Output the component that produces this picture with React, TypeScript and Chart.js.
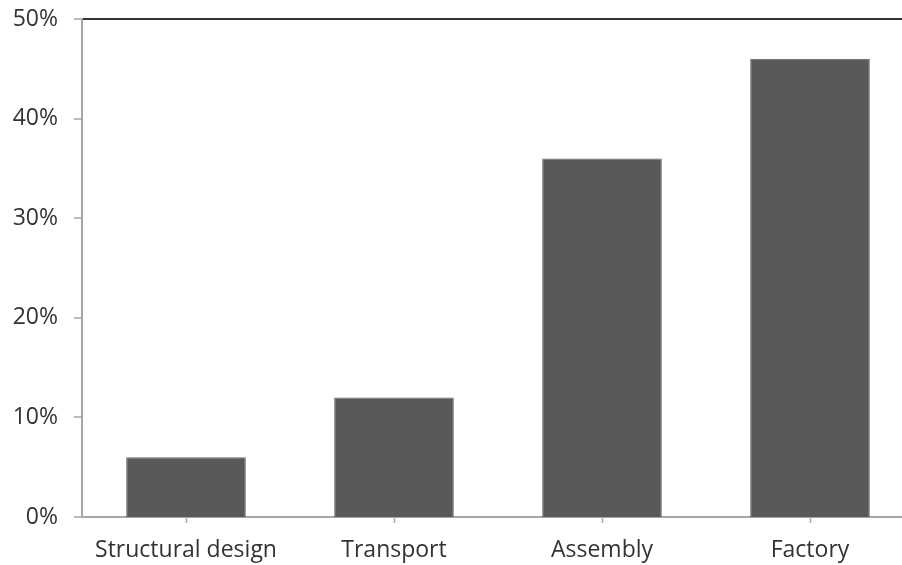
import React, { useEffect, useRef } from "react";
import { Chart, registerables } from "chart.js";

Chart.register(...registerables);

const categories = ["Structural design", "Transport", "Assembly", "Factory"];
const shares = [6, 12, 36, 46];
const yTicks = [0, 10, 20, 30, 40, 50];

const FONT = "'Open Sans', 'Noto Sans', sans-serif";
const TEXT = "#333333";
const AXIS = "#a6a6a6";

export default function App() {
  const ref = useRef<HTMLCanvasElement | null>(null);

  useEffect(() => {
    if (!ref.current) return;
    const chart = new Chart(ref.current, {
      type: "bar",
      data: {
        labels: categories,
        datasets: [
          {
            data: shares,
            backgroundColor: "#595959",
            borderColor: "#666666",
            borderWidth: 1,
            categoryPercentage: 1,
            barPercentage: 0.575,
          },
        ],
      },
      options: {
        responsive: false,
        animation: false,
        layout: { padding: { top: 19, right: 16, left: 0, bottom: 0 } },
        plugins: { legend: { display: false }, tooltip: { enabled: false } },
        scales: {
          x: {
            offset: true,
            grid: {
              offset: false,
              drawOnChartArea: false,
              tickLength: 6,
              tickColor: AXIS,
              tickWidth: 1.5,
            },
            border: { color: AXIS, width: 2 },
            ticks: {
              color: TEXT,
              font: { family: FONT, size: 23 },
              padding: 14,
              maxRotation: 0,
            },
            afterFit: (s: any) => {
              s.height = 48;
              s.paddingLeft = 0;
              s.paddingRight = 0;
            },
          },
          y: {
            min: 0,
            max: 50,
            afterBuildTicks: (s: any) => {
              s.ticks = yTicks.map((v) => ({ value: v }));
            },
            grid: {
              color: (ctx: any) => (ctx.tick && ctx.tick.value === 50 ? "#333333" : "rgba(0,0,0,0)"),
              lineWidth: (ctx: any) => (ctx.tick && ctx.tick.value === 50 ? 2 : 0),
              tickColor: AXIS,
              tickLength: 8,
              tickWidth: 1.5,
            },
            border: { color: AXIS, width: 2 },
            ticks: {
              color: TEXT,
              font: { family: FONT, size: 23 },
              padding: 16,
              callback: (v: any) => `${v}%`,
            },
            afterFit: (s: any) => {
              s.width = 82;
              s.paddingTop = 0;
              s.paddingBottom = 0;
            },
          },
        },
      },
    });
    return () => chart.destroy();
  }, []);

  return (
    <div
      style={{
        position: "fixed",
        left: 0,
        top: 0,
        width: 902,
        height: 565,
        overflow: "hidden",
        background: "#ffffff",
      }}
    >
      <canvas ref={ref} width={930} height={565} style={{ display: "block" }} />
    </div>
  );
}
